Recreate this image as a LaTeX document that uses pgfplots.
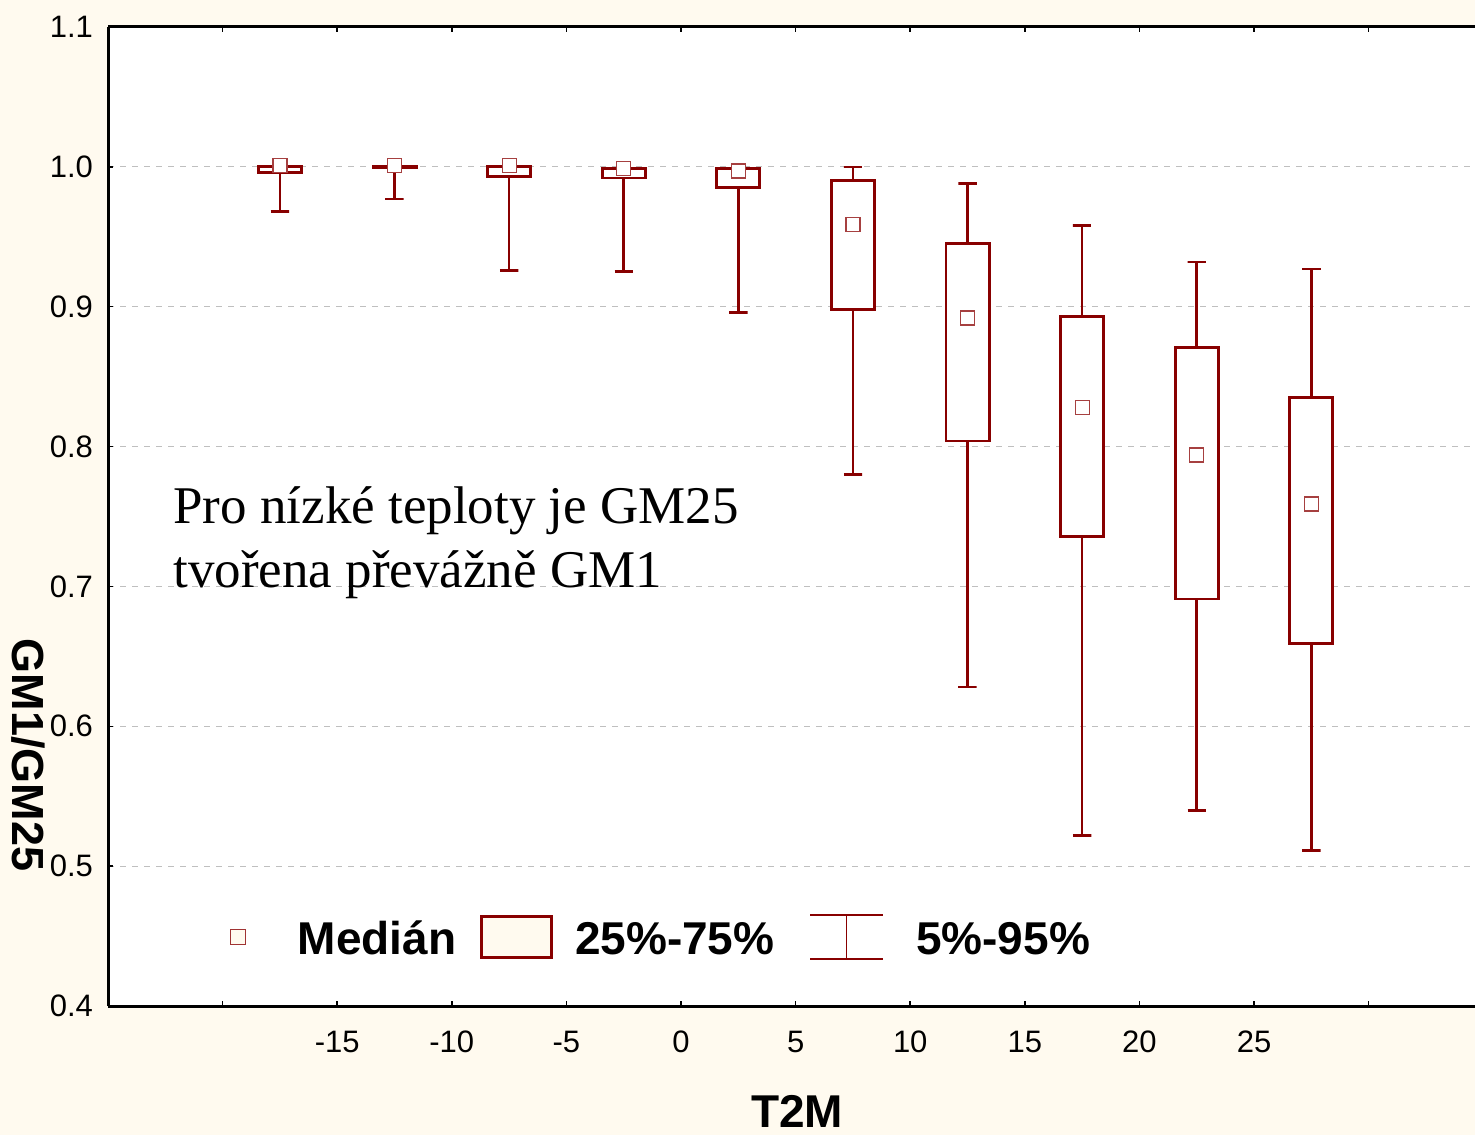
\documentclass[border=0pt]{standalone}
\usepackage{fontspec}
\setmainfont{Liberation Sans}
\newfontfamily\serifa{Liberation Serif}
\usepackage{pgfplots}
\pgfplotsset{compat=1.18}
\definecolor{maroonc}{RGB}{136,0,0}
\definecolor{cream}{RGB}{255,250,239}
\begin{document}
\begin{tikzpicture}
\path[use as bounding box, fill=cream] (-54pt,-64.5pt) rectangle (683.5pt,503pt);
\begin{axis}[
  at={(0,0)}, anchor=south west,
  scale only axis, width=683.5pt, height=489.5pt,
  xmin=-25, xmax=34.64, ymin=0.4, ymax=1.1,
  axis x line=box, axis y line=left,
  axis line style={line width=1.5pt, -},
  y axis line style={-},
  axis background/.style={fill=white},
  xtick={-20,-15,...,30},
  xticklabels={,-15,-10,-5,0,5,10,15,20,25,},
  ytick={0.4,0.5,0.6,0.7,0.8,0.9,1.0,1.1},
  /pgf/number format/assume math mode=true,
  yticklabel={\pgfmathprintnumber[fixed, fixed zerofill, precision=1]{\tick}},
  tick label style={font=\fontsize{15.5}{18}\selectfont, black},
  xticklabel style={yshift=-9pt},
  yticklabel style={xshift=-4pt},
  tick align=inside, major tick length=2.5pt,
  tick style={line width=0.75pt, black},
  ymajorgrids, grid style={dashed, black!25, line width=0.4pt},
  legend style={at={(axis cs:-19.94,0.4495)}, anchor=west, draw=none, fill=none,
     inner sep=0pt, outer sep=0pt,
     nodes={inner sep=0pt, anchor=west, text height=18pt, text depth=0pt,
            font=\fontsize{23}{26}\selectfont\bfseries},
     /tikz/every even column/.append style={column sep=0pt}},
  legend columns=3,
  wh/.style={forget plot, draw=maroonc, line width=1.3pt},
  bx/.style={forget plot, draw=maroonc, line width=1.45pt, fill=white},
]
\addlegendimage{legend image code/.code={
  \path[draw=none, fill=none] (0pt,-11pt) rectangle (37pt,11pt);
  \draw[maroonc!80, line width=0.6pt, fill=cream] (3.25pt,-3.75pt) rectangle (10.75pt,3.75pt);}}
\addlegendentry{Medián}
\addlegendimage{legend image code/.code={
  \path[draw=none, fill=none] (0pt,-11pt) rectangle (59.3pt,11pt);
  \draw[maroonc, line width=1.5pt, fill=cream] (12.55pt,-10.25pt) rectangle (47.55pt,10.25pt);}}
\addlegendentry{25\%-75\%}
\addlegendimage{legend image code/.code={
  \path[draw=none, fill=none] (0pt,-11pt) rectangle (70.8pt,11pt);
  \draw[maroonc, line width=1.2pt] (17.8pt,-11pt) -- (54.3pt,-11pt) (17.8pt,11pt) -- (54.3pt,11pt);
  \draw[maroonc, line width=0.8pt] (36.05pt,-11pt) -- (36.05pt,11pt);}}
\addlegendentry{5\%-95\%}

% whiskers with caps (5%-95%)
\addplot[wh] coordinates {(-17.9,0.968) (-17.1,0.968) (-17.5,0.968) (-17.5,1.0)};
\addplot[wh] coordinates {(-12.9,0.977) (-12.1,0.977) (-12.5,0.977) (-12.5,1.0)};
\addplot[wh] coordinates {(-7.9,0.926) (-7.1,0.926) (-7.5,0.926) (-7.5,1.0)};
\addplot[wh] coordinates {(-2.9,0.925) (-2.1,0.925) (-2.5,0.925) (-2.5,0.999)};
\addplot[wh] coordinates {(2.1,0.896) (2.9,0.896) (2.5,0.896) (2.5,0.999)};
\addplot[wh] coordinates {(7.1,0.780) (7.9,0.780) (7.5,0.780) (7.5,1.000) (7.1,1.000) (7.9,1.000)};
\addplot[wh] coordinates {(12.1,0.628) (12.9,0.628) (12.5,0.628) (12.5,0.988) (12.1,0.988) (12.9,0.988)};
\addplot[wh] coordinates {(17.1,0.522) (17.9,0.522) (17.5,0.522) (17.5,0.958) (17.1,0.958) (17.9,0.958)};
\addplot[wh] coordinates {(22.1,0.540) (22.9,0.540) (22.5,0.540) (22.5,0.932) (22.1,0.932) (22.9,0.932)};
\addplot[wh] coordinates {(27.1,0.511) (27.9,0.511) (27.5,0.511) (27.5,0.927) (27.1,0.927) (27.9,0.927)};
% boxes: 25%-75%
\addplot[bx] coordinates {(-18.44,0.996) (-16.56,0.996) (-16.56,1.000) (-18.44,1.000)} -- cycle;
\addplot[bx] coordinates {(-13.44,0.9998) (-11.56,0.9998) (-11.56,1.0002) (-13.44,1.0002)} -- cycle;
\addplot[bx] coordinates {(-8.44,0.993) (-6.56,0.993) (-6.56,1.000) (-8.44,1.000)} -- cycle;
\addplot[bx] coordinates {(-3.44,0.992) (-1.56,0.992) (-1.56,0.999) (-3.44,0.999)} -- cycle;
\addplot[bx] coordinates {(1.56,0.985) (3.44,0.985) (3.44,0.999) (1.56,0.999)} -- cycle;
\addplot[bx] coordinates {(6.56,0.898) (8.44,0.898) (8.44,0.990) (6.56,0.990)} -- cycle;
\addplot[bx] coordinates {(11.56,0.804) (13.44,0.804) (13.44,0.945) (11.56,0.945)} -- cycle;
\addplot[bx] coordinates {(16.56,0.736) (18.44,0.736) (18.44,0.893) (16.56,0.893)} -- cycle;
\addplot[bx] coordinates {(21.56,0.691) (23.44,0.691) (23.44,0.871) (21.56,0.871)} -- cycle;
\addplot[bx] coordinates {(26.56,0.659) (28.44,0.659) (28.44,0.835) (26.56,0.835)} -- cycle;
% medians
\addplot[forget plot, only marks, mark=square*, mark size=3.5pt,
  mark options={fill=white, draw=maroonc!75, line width=0.6pt}] coordinates {
  (-17.5,1.001) (-12.5,1.001) (-7.5,1.001) (-2.5,0.999) (2.5,0.997)
  (7.5,0.959) (12.5,0.892) (17.5,0.828) (22.5,0.794) (27.5,0.759)};
\end{axis}
\node[anchor=base west, inner sep=0pt, font=\serifa\fontsize{26.5}{31}\selectfont] at (32.5pt,241pt) {Pro nízké teploty je GM25};
\node[anchor=base west, inner sep=0pt, font=\serifa\fontsize{26.5}{31}\selectfont] at (32.5pt,209pt) {tvořena převážně GM1};
\node[rotate=-90, inner sep=0pt, font=\fontsize{22.5}{26}\selectfont\bfseries] at (-40pt,125.5pt) {GM1/GM25};
\node[anchor=base, inner sep=0pt, font=\fontsize{23}{26}\selectfont\bfseries] at (344.5pt,-60.5pt) {T2M};
\end{tikzpicture}
\end{document}
